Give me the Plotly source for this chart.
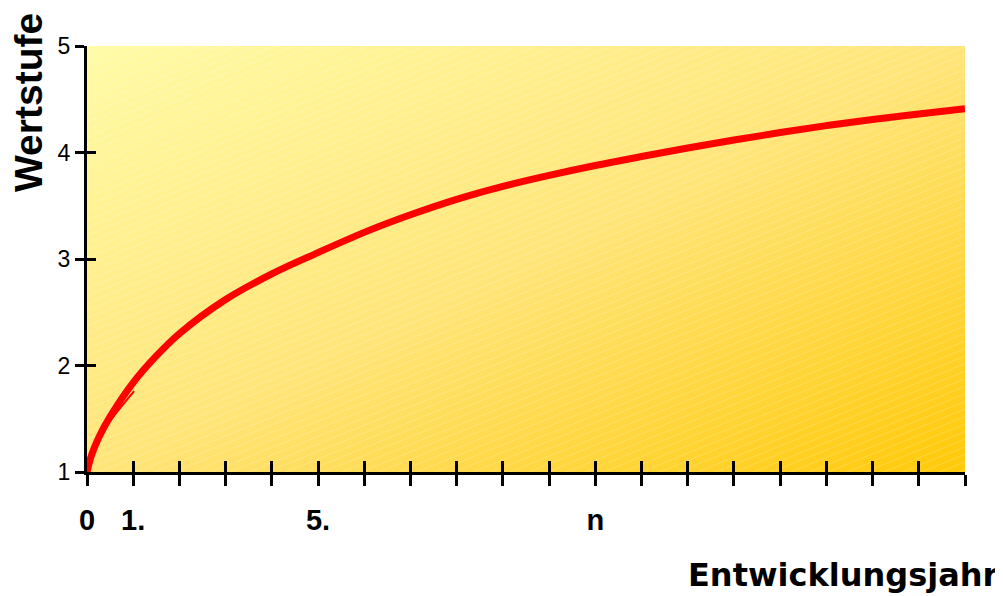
"""Wertstufe je Entwicklungsjahr - stylised growth curve."""

import base64

import plotly.graph_objs as go

# data
entwicklungsjahr = [0, 0.1, 0.25, 0.5, 1, 1.5, 2, 3, 4, 5, 6, 7, 8, 9, 10, 11, 12, 13, 14, 15, 16, 17, 18, 19]
wertstufe = [1.0, 1.16, 1.32, 1.52, 1.84, 2.09, 2.30, 2.62, 2.86, 3.06, 3.25, 3.415, 3.56, 3.682,
             3.785, 3.878, 3.962, 4.042, 4.117, 4.187, 4.252, 4.31, 4.362, 4.41]

# the small extra pen stroke near the start of the curve
stroke_x = [0.29, 0.66, 1.02]
stroke_y = [1.36, 1.57, 1.76]

x_tickvals = list(range(0, 20))
x_ticktext = ["0", "1.", "", "", "", "5.", "", "", "", "", "", "n", "", "", "", "", "", "", "", ""]
y_tickvals = [1, 2, 3, 4, 5]

# the page body has an 8px margin, so the figure is drawn 8px smaller
OFF = 8
W, H = 1003 - OFF, 596 - OFF
L, T = 87 - OFF, 46 - OFF
R, B = W - (965 - OFF), H - (472 - OFF)
PW, PH = W - L - R, H - T - B

# gradient background of the plot area, with faint diagonal hatching
svg = (
    f"<svg xmlns='http://www.w3.org/2000/svg' width='{PW}' height='{PH}' "
    f"viewBox='0 0 {PW} {PH}' preserveAspectRatio='none'>"
    "<defs>"
    "<linearGradient id='g' x1='0' y1='0' x2='1' y2='1'>"
    "<stop offset='0' stop-color='#FFFBA6'/>"
    "<stop offset='0.5' stop-color='#FFE57A'/>"
    "<stop offset='1' stop-color='#FFC908'/>"
    "</linearGradient>"
    "<pattern id='p' width='7' height='7' patternUnits='userSpaceOnUse' patternTransform='rotate(-22)'>"
    "<line x1='0' y1='0.5' x2='7' y2='0.5' stroke='white' stroke-width='0.8' stroke-opacity='0.22'/>"
    "</pattern>"
    "</defs>"
    f"<rect width='{PW}' height='{PH}' fill='url(#g)'/>"
    f"<rect width='{PW}' height='{PH}' fill='url(#p)'/>"
    "</svg>"
)
bg_src = "data:image/svg+xml;base64," + base64.b64encode(svg.encode()).decode()

curve = go.Scatter(
    x=entwicklungsjahr,
    y=wertstufe,
    mode="lines",
    line=dict(color="#FF0000", width=7, shape="spline", smoothing=1.0),
    hoverinfo="skip",
)
stroke = go.Scatter(
    x=stroke_x,
    y=stroke_y,
    mode="lines",
    line=dict(color="#FF0000", width=2, shape="spline"),
    xaxis="x2",
    yaxis="y2",
    hoverinfo="skip",
)

fig = go.Figure(data=[curve, stroke])

arial = "Liberation Sans, Arial, sans-serif"
fig.update_layout(
    width=W,
    height=H,
    margin=dict(l=L, r=R, t=T, b=B, autoexpand=False),
    paper_bgcolor="white",
    plot_bgcolor="rgba(0,0,0,0)",
    showlegend=False,
    hovermode=False,
    font=dict(family=arial, color="black"),
    images=[
        dict(
            source=bg_src,
            xref="paper",
            yref="paper",
            x=0,
            y=1,
            sizex=1,
            sizey=1,
            sizing="stretch",
            xanchor="left",
            yanchor="top",
            layer="below",
        )
    ],
    xaxis=dict(
        range=[0, 19],
        tickvals=x_tickvals,
        ticktext=x_ticktext,
        ticks="outside",
        ticklen=11,
        tickwidth=2.5,
        tickcolor="black",
        ticklabelstandoff=9,
        tickfont=dict(size=29, family=arial, weight="bold"),
        showline=True,
        linewidth=3,
        linecolor="black",
        showgrid=False,
        zeroline=False,
        automargin=False,
        fixedrange=True,
    ),
    yaxis=dict(
        range=[1, 5],
        tickvals=y_tickvals,
        ticks="outside",
        ticklen=9,
        tickwidth=2.5,
        tickcolor="black",
        tickfont=dict(size=23),
        showline=True,
        linewidth=3,
        linecolor="black",
        showgrid=False,
        zeroline=False,
        automargin=False,
        fixedrange=True,
    ),
    # second pair of axes only to draw the inner half of the crossing ticks
    xaxis2=dict(
        range=[0, 19],
        overlaying="x",
        anchor="y",
        side="bottom",
        tickvals=x_tickvals,
        ticks="inside",
        ticklen=11,
        tickwidth=2.5,
        tickcolor="black",
        showticklabels=False,
        showline=False,
        showgrid=False,
        zeroline=False,
        fixedrange=True,
    ),
    yaxis2=dict(
        range=[1, 5],
        overlaying="y",
        anchor="x",
        side="left",
        tickvals=y_tickvals,
        ticks="inside",
        ticklen=9,
        tickwidth=2.5,
        tickcolor="black",
        showticklabels=False,
        showline=False,
        showgrid=False,
        zeroline=False,
        fixedrange=True,
    ),
    annotations=[
        dict(
            text="Wertstufe",
            textangle=-90,
            xref="paper",
            yref="paper",
            x=(28 - 87) / PW,
            y=(472 - 103) / PH,
            xanchor="center",
            yanchor="middle",
            showarrow=False,
            font=dict(size=39, family=arial, weight="bold", color="black"),
        ),
        dict(
            text="Entwicklungsjahr",
            xref="paper",
            yref="paper",
            x=(1001 - 87) / PW,
            y=(472 - 575) / PH,
            xanchor="right",
            yanchor="middle",
            showarrow=False,
            font=dict(size=32, family="DejaVu Sans, sans-serif", weight="bold", color="black"),
        ),
    ],
)

fig.write_html("out.html")
